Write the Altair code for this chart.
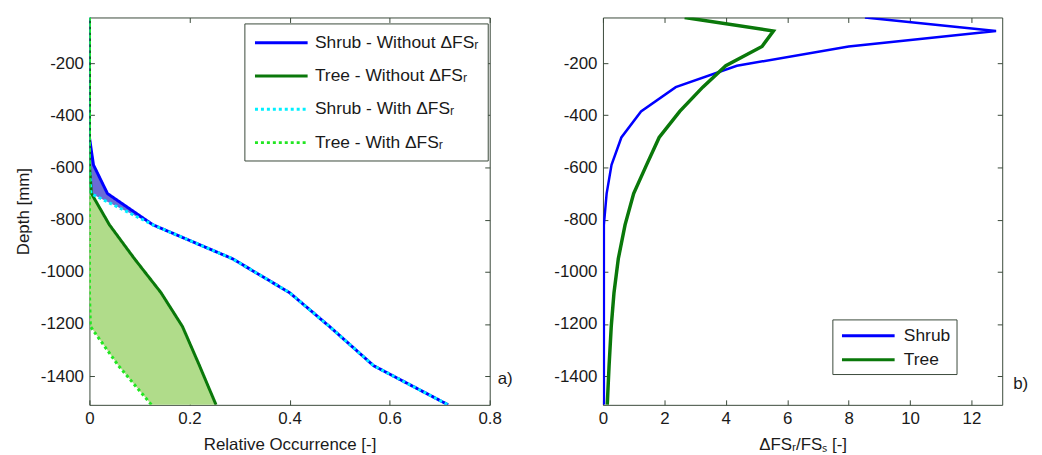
import altair as alt
import pandas as pd

# ---------------- Panel a) data ----------------
depth_a = [-25, -485, -590, -700, -820, -950, -1080, -1210, -1360, -1510]
shrub_without = [0, 0, 0.008, 0.036, 0.127, 0.286, 0.40, 0.48, 0.568, 0.717]
tree_without = [0, 0, 0, 0.004, 0.040, 0.09, 0.143, 0.186, 0.22, 0.253]
shrub_with = [0, 0, 0, 0.003, 0.127, 0.286, 0.40, 0.48, 0.568, 0.717]
tree_with = [0, 0, 0, 0, 0, 0, 0, 0.002, 0.058, 0.124]

series_a = ["Shrub - Without ΔFSᵣ", "Tree - Without ΔFSᵣ",
            "Shrub - With ΔFSᵣ", "Tree - With ΔFSᵣ"]
colors_a = ["#0000ff", "#0a780a", "#00f0ff", "#22e622"]
dashes_a = [[1, 0], [1, 0], [3, 3], [3, 3]]

# ---------------- Panel b) data ----------------
depth_b = [-25, -77, -136, -210, -292, -385, -485, -590, -700, -820,
           -950, -1080, -1210, -1360, -1510]
shrub_ratio = [8.53, 12.8, 8.0, 4.36, 2.37, 1.24, 0.6, 0.28, 0.12, 0.03,
               0.03, 0.03, 0.03, 0.03, 0.03]
tree_ratio = [2.66, 5.55, 5.18, 4.0, 3.25, 2.5, 1.83, 1.42, 1.0, 0.72,
              0.5, 0.36, 0.27, 0.2, 0.14]
series_b = ["Shrub", "Tree"]
colors_b = ["#0000ff", "#0a780a"]

x_ticks_a = [0, 0.2, 0.4, 0.6, 0.8]
x_ticks_b = [0, 2, 4, 6, 8, 10, 12]
y_ticks = [-200, -400, -600, -800, -1000, -1200, -1400]

FONT = "Liberation Sans"
FRAME = "#3a4a3a"
TXT = "#1a1a1a"

# ---------------- tables ----------------
wide_a = pd.DataFrame({"depth": depth_a, "sw": shrub_without, "tw": tree_without,
                       "sh": shrub_with, "th": tree_with})
rows = []
for name, vals in zip(series_a, [shrub_without, tree_without, shrub_with, tree_with]):
    for i, (d, v) in enumerate(zip(depth_a, vals)):
        rows.append({"series": name, "depth": d, "value": v, "idx": i})
long_a = pd.DataFrame(rows)

blue_fill = wide_a[(wide_a.depth <= -485) & (wide_a.depth >= -820)]
green_fill = wide_a[wide_a.depth <= -700]

rows = []
for name, vals in zip(series_b, [shrub_ratio, tree_ratio]):
    for i, (d, v) in enumerate(zip(depth_b, vals)):
        rows.append({"veg": name, "depth": d, "value": v, "idx": i})
long_b = pd.DataFrame(rows)

# ---------------- scales ----------------
ya = alt.Scale(domain=[-1510, -25], nice=False, zero=False)
xa = alt.Scale(domain=[0, 0.8], nice=False)
xb = alt.Scale(domain=[0, 13], nice=False)

color_a = alt.Scale(domain=series_a, range=colors_a)
dash_a = alt.Scale(domain=series_a, range=dashes_a)
color_b = alt.Scale(domain=series_b, range=colors_b)

# wide line sample: path 3x wider than the nominal symbol size
SYM = 17.67
legend_common = dict(orient="none", title=None, symbolType="M-3,0H3",
                     symbolSize=SYM * SYM, symbolStrokeWidth=3,
                     symbolFillColor="transparent",
                     labelFont=FONT, labelFontSize=17.5, labelColor=TXT,
                     strokeColor=FRAME, fillColor="white",
                     cornerRadius=0, labelLimit=400)

leg_a = alt.Legend(legendX=156, legendY=6, padding=9, rowPadding=14.5,
                   symbolOffset=SYM, labelOffset=23.3, **legend_common)
leg_b = alt.Legend(legendX=231, legendY=304, padding=6, rowPadding=5,
                   symbolOffset=SYM + 2, labelOffset=25.3, **legend_common)


def left_axis(title):
    return alt.Axis(orient="left", values=y_ticks, title=title,
                    labelExpr="'' + datum.value", titlePadding=8)


def bottom_axis(values, title):
    return alt.Axis(orient="bottom", values=values, title=title, titlePadding=10,
                    labelExpr="'' + datum.value")


def top_axis(values):
    return alt.Axis(orient="top", values=values, labels=False, title=None)


right_axis = alt.Axis(orient="right", values=y_ticks, labels=False, title=None)

W, H = 403, 390

# ---------------- panel a ----------------
fill_b = alt.Chart(blue_fill).mark_area(orient="horizontal", color="#6b6bd6").encode(
    x=alt.X("sh:Q", scale=xa, axis=None),
    x2="sw:Q",
    y=alt.Y("depth:Q", scale=ya, axis=None),
)
fill_g = alt.Chart(green_fill).mark_area(orient="horizontal", color="#b0dc8a").encode(
    x=alt.X("th:Q", scale=xa, axis=None),
    x2="tw:Q",
    y=alt.Y("depth:Q", scale=ya, axis=None),
)
solid_a = alt.Chart(long_a[long_a.series.str.contains("Without")]).mark_line(
    strokeWidth=3, clip=True).encode(
    x=alt.X("value:Q", scale=xa, axis=bottom_axis(x_ticks_a, "Relative Occurrence [-]")),
    y=alt.Y("depth:Q", scale=ya, axis=left_axis("Depth [mm]")),
    order="idx:Q",
    color=alt.Color("series:N", scale=color_a, legend=leg_a),
    strokeDash=alt.StrokeDash("series:N", scale=dash_a, legend=leg_a),
)
dotted_a = alt.Chart(long_a[long_a.series.str.contains("With ")]).mark_line(
    strokeWidth=3, clip=True).encode(
    x=alt.X("value:Q", scale=xa, axis=top_axis(x_ticks_a)),
    y=alt.Y("depth:Q", scale=ya, axis=right_axis),
    order="idx:Q",
    color=alt.Color("series:N", scale=color_a, legend=None),
    strokeDash=alt.StrokeDash("series:N", scale=dash_a, legend=None),
)
lab_a = alt.Chart(pd.DataFrame({"t": ["a)"]})).mark_text(
    align="left", baseline="middle", font=FONT, fontSize=17, color=TXT).encode(
    text="t:N", x=alt.value(411), y=alt.value(364))

panel_a = alt.layer(fill_b, fill_g, solid_a, dotted_a, lab_a).properties(width=W, height=H)

# ---------------- panel b ----------------
line_shrub = alt.Chart(long_b[long_b.veg == "Shrub"]).mark_line(strokeWidth=2.5, clip=True).encode(
    x=alt.X("value:Q", scale=xb, axis=bottom_axis(x_ticks_b, "ΔFSᵣ/FSₛ [-]")),
    y=alt.Y("depth:Q", scale=ya, axis=left_axis(None)),
    order="idx:Q",
    color=alt.Color("veg:N", scale=color_b, legend=leg_b),
)
line_tree = alt.Chart(long_b[long_b.veg == "Tree"]).mark_line(strokeWidth=3.5, clip=True).encode(
    x=alt.X("value:Q", scale=xb, axis=top_axis(x_ticks_b)),
    y=alt.Y("depth:Q", scale=ya, axis=right_axis),
    order="idx:Q",
    color=alt.Color("veg:N", scale=color_b, legend=None),
)
lab_b = alt.Chart(pd.DataFrame({"t": ["b)"]})).mark_text(
    align="left", baseline="middle", font=FONT, fontSize=17, color=TXT).encode(
    text="t:N", x=alt.value(413), y=alt.value(369))

panel_b = alt.layer(line_shrub, line_tree, lab_b).properties(width=402, height=H)

chart = alt.hconcat(panel_a, panel_b, spacing=40).resolve_scale(
    x="independent", y="independent", color="independent", strokeDash="independent"
).resolve_legend(color="independent", strokeDash="independent").properties(
    padding={"left": 6, "top": 7, "right": 5, "bottom": 5},
    background="white",
).configure_view(
    stroke=FRAME, strokeWidth=1
).configure_axis(
    offset=-5, domain=False, grid=False, tickSize=5, tickColor=FRAME, tickWidth=1,
    labelFont=FONT, labelFontSize=17, labelColor=TXT, labelPadding=6, labelFlush=False,
    titleFont=FONT, titleFontSize=17, titleFontWeight="normal", titleColor=TXT,
)

chart.save("out.html", embed_options={"renderer": "svg", "actions": False})
